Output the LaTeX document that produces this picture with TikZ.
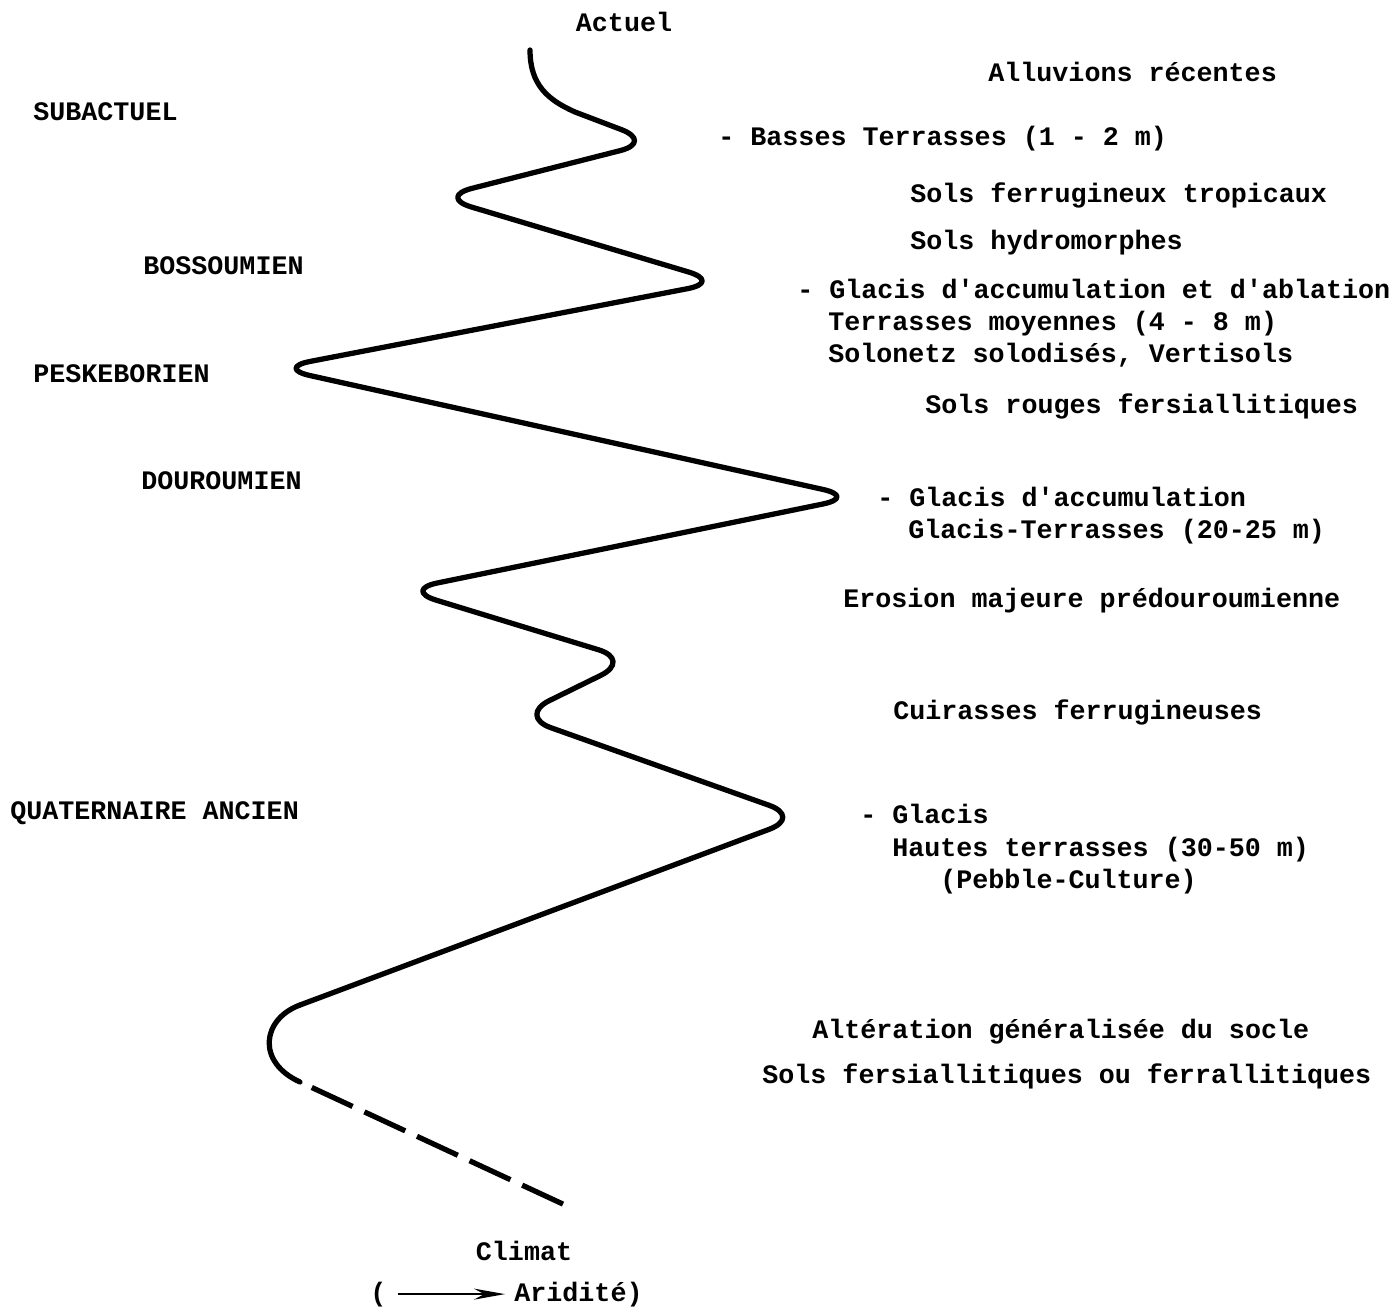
\documentclass[tikz,border=0pt]{standalone}
\usepackage{fontspec}
\setmonofont{Liberation Mono}
\usetikzlibrary{arrows.meta,positioning}

\begin{document}
\begin{tikzpicture}[
  x=0.02cm, y=-0.02cm,
  every node/.style={font=\ttfamily\bfseries\fontsize{15.2}{18.2}\selectfont, inner sep=0pt},
  period/.style={anchor=base west},
  deposit/.style={anchor=base west},
  caption/.style={anchor=base},
  climcurve/.style={line width=3pt, line cap=round, line join=round},
  tailline/.style={line width=3pt, dash pattern=on 0.9cm off 0.26cm, dash phase=0.9cm},
  climarrow/.style={-{Stealth[length=0.62cm, width=0.22cm]}, line width=1pt,
    shorten <=0.22cm, shorten >=0.18cm},
]
\useasboundingbox (0,0) rectangle (1391,1309);

% Periods
\node[caption] (actuel) at (624,31) {Actuel};
\node[period] (subactuel) at (33,120) {SUBACTUEL};
\node[period] (bossoumien) at (143,274) {BOSSOUMIEN};
\node[period] (peskeborien) at (33,382) {PESKEBORIEN};
\node[period] (douroumien) at (141,489) {DOUROUMIEN};
\node[period] (quatanc) at (10,819) {QUATERNAIRE ANCIEN};

% Deposits and soils
\node[deposit] (alluvions) at (988,81) {Alluvions récentes};
\node[deposit] (basses) at (718,145) {- Basses Terrasses (1 - 2 m)};
\node[deposit] (ferrutrop) at (910,202) {Sols ferrugineux tropicaux};
\node[deposit] (hydromorph) at (910,249) {Sols hydromorphes};
\node[deposit] (glacisab) at (797,298) {- Glacis d'accumulation et d'ablation};
\node[deposit] (terrmoy) at (828,330) {Terrasses moyennes (4 - 8 m)};
\node[deposit] (solonetz) at (828,362) {Solonetz solodisés, Vertisols};
\node[deposit] (rougesfers) at (925,413) {Sols rouges fersiallitiques};
\node[deposit] (glacisacc) at (877,506) {- Glacis d'accumulation};
\node[deposit] (glacister) at (908,538) {Glacis-Terrasses (20-25 m)};
\node[deposit] (erosion) at (843,607) {Erosion majeure prédouroumienne};
\node[deposit] (cuirasses) at (893,719) {Cuirasses ferrugineuses};
\node[deposit] (glacis) at (860,823) {- Glacis};
\node[deposit] (hautester) at (892,856) {Hautes terrasses (30-50 m)};
\node[deposit] (pebble) at (940,888) {(Pebble-Culture)};
\node[deposit] (alteration) at (812,1038) {Altération généralisée du socle};
\node[deposit] (fersferral) at (762,1083) {Sols fersiallitiques ou ferrallitiques};

% Climate curve
\coordinate (bendin) at (300,1005);
\coordinate (solidend) at (300,1082);
\coordinate (dashend) at (565,1205);
\draw[climcurve] (530,50) .. controls (530,85) and (548,100) .. (575,112)
  [rounded corners=0.7cm] -- (654,142) -- (438,197) -- (722,282) -- (276,368)
  -- (857,497) -- (403,590) -- (632,660) -- (518,716) -- (802,817) -- (bendin);
\draw[climcurve] (bendin) .. controls (262,1019) and (256,1062) .. (solidend);
\draw[tailline] (solidend) -- (dashend);

% Legend
\node[caption] (climat) at (524,1260) {Climat};
\node[deposit] (lpar) at (370,1301) {(};
\node[deposit] (aridite) at (514,1301) {Aridité)};
\draw[climarrow] (lpar) -- (aridite);
\end{tikzpicture}
\end{document}
